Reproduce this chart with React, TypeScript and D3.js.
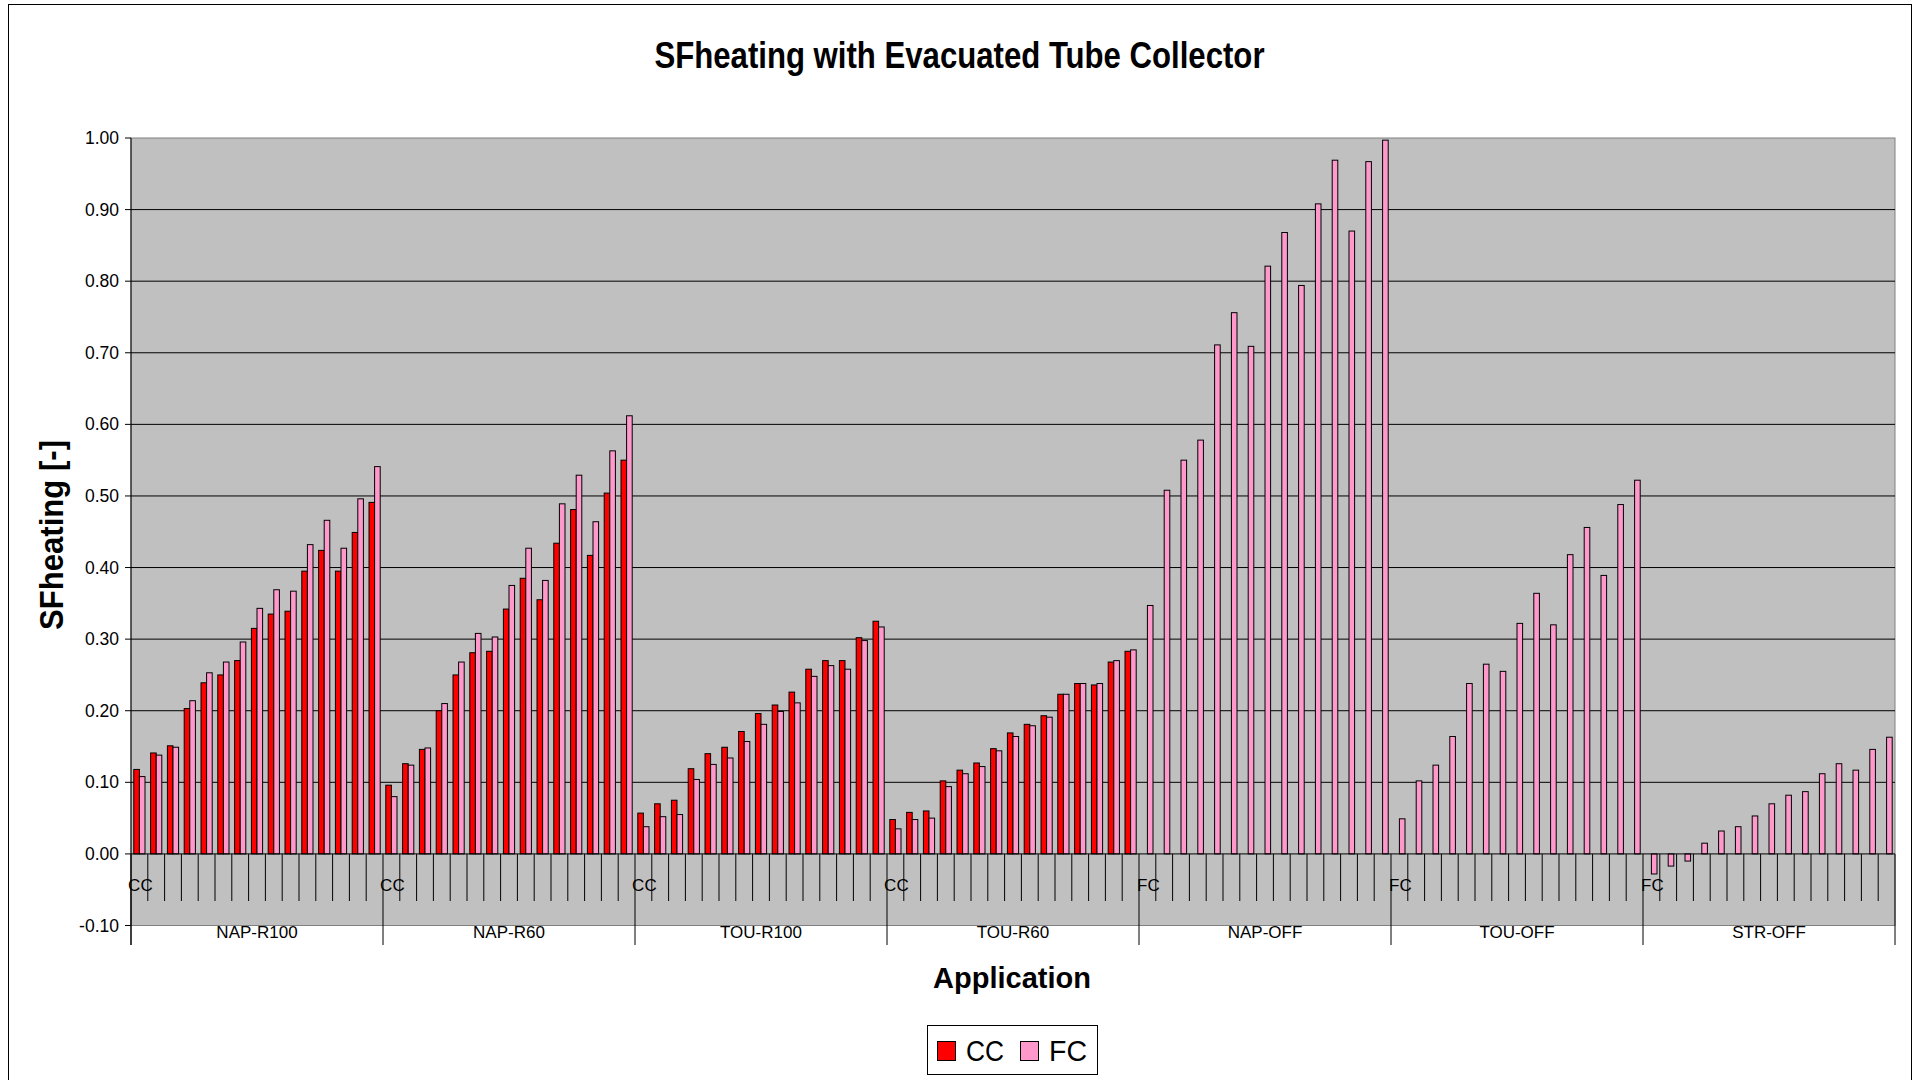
import React from "react";
import * as d3 from "d3";

const groups = ["NAP-R100", "NAP-R60", "TOU-R100", "TOU-R60", "NAP-OFF", "TOU-OFF", "STR-OFF"];
const groupLevel2 = ["CC", "CC", "CC", "CC", "FC", "FC", "FC"];
const series = ["CC", "FC"];
const seriesColors = ["#FF0000", "#FF99CC"];

const napR100CC = [0.118, 0.141, 0.151, 0.203, 0.239, 0.25, 0.27, 0.315, 0.335, 0.339, 0.395, 0.424, 0.395, 0.449, 0.491];
const napR100FC = [0.108, 0.138, 0.149, 0.214, 0.253, 0.268, 0.296, 0.343, 0.369, 0.367, 0.432, 0.466, 0.427, 0.496, 0.541];
const napR60CC = [0.096, 0.126, 0.146, 0.2, 0.25, 0.281, 0.283, 0.342, 0.385, 0.355, 0.434, 0.481, 0.417, 0.504, 0.55];
const napR60FC = [0.08, 0.124, 0.148, 0.21, 0.268, 0.308, 0.303, 0.375, 0.427, 0.382, 0.489, 0.529, 0.464, 0.563, 0.612];
const touR100CC = [0.057, 0.07, 0.075, 0.119, 0.14, 0.149, 0.171, 0.196, 0.208, 0.226, 0.258, 0.27, 0.27, 0.302, 0.325];
const touR100FC = [0.038, 0.052, 0.055, 0.104, 0.125, 0.134, 0.157, 0.181, 0.199, 0.211, 0.248, 0.263, 0.258, 0.298, 0.317];
const touR60CC = [0.048, 0.058, 0.06, 0.102, 0.117, 0.127, 0.147, 0.169, 0.181, 0.193, 0.223, 0.238, 0.236, 0.268, 0.283];
const touR60FC = [0.035, 0.048, 0.05, 0.094, 0.112, 0.122, 0.144, 0.164, 0.179, 0.191, 0.223, 0.238, 0.238, 0.27, 0.285];
const napOffFC = [0.347, 0.508, 0.55, 0.578, 0.711, 0.756, 0.709, 0.821, 0.868, 0.794, 0.908, 0.969, 0.87, 0.967, 0.997];
const touOffFC = [0.049, 0.102, 0.124, 0.164, 0.238, 0.265, 0.255, 0.322, 0.364, 0.32, 0.418, 0.456, 0.389, 0.488, 0.522];
const strOffFC = [-0.028, -0.017, -0.01, 0.015, 0.032, 0.038, 0.053, 0.07, 0.082, 0.087, 0.112, 0.126, 0.117, 0.146, 0.163];

const ccByGroup: (number[] | null)[] = [napR100CC, napR60CC, touR100CC, touR60CC, null, null, null];
const fcByGroup: (number[] | null)[] = [napR100FC, napR60FC, touR100FC, touR60FC, napOffFC, touOffFC, strOffFC];

const yTicks = [-0.1, 0, 0.1, 0.2, 0.3, 0.4, 0.5, 0.6, 0.7, 0.8, 0.9, 1.0];
const perGroup = 15;

const FONT = "'Liberation Sans', Arial, Helvetica, sans-serif";

export default function App() {
  const W = 1917, H = 1080;
  const left = 131, right = 1895, top = 138, bottom = 925.5;
  const n = groups.length * perGroup;
  const x = d3.scaleBand<number>().domain(d3.range(n)).range([left, right]).padding(0);
  const inner = d3.scaleBand<string>().domain(series).range([0, x.bandwidth()]).paddingInner(0).paddingOuter(0.5);
  const y = d3.scaleLinear().domain([-0.1, 1.0]).range([bottom, top]);
  const y0 = y(0);

  const bars: { key: string; x: number; w: number; y: number; h: number; fill: string }[] = [];
  groups.forEach((g, gi) => {
    [ccByGroup[gi], fcByGroup[gi]].forEach((vals, si) => {
      if (!vals) return;
      vals.forEach((v, k) => {
        const idx = gi * perGroup + k;
        const yv = y(v);
        bars.push({
          key: `${g}-${si}-${k}`,
          x: (x(idx) as number) + (inner(series[si]) as number),
          w: inner.bandwidth(),
          y: Math.min(yv, y0),
          h: Math.abs(y0 - yv),
          fill: seriesColors[si],
        });
      });
    });
  });

  const tickBottom = 901;
  const sepBottom = 945;

  return (
    <svg width={W} height={H} style={{ position: "absolute", left: 0, top: 0, background: "#fff" }} fontFamily={FONT}>
      <rect x={8.5} y={4.5} width={1903} height={1100} fill="#fff" stroke="#000" strokeWidth={1} />
      <text x={959.5} y={68} textAnchor="middle" fontSize={37} fontWeight="bold" textLength={610} lengthAdjust="spacingAndGlyphs">
        SFheating with Evacuated Tube Collector
      </text>
      {/* plot area */}
      <rect x={left} y={top} width={right - left} height={bottom - top} fill="#C0C0C0" stroke="#808080" strokeWidth={1} />
      {yTicks.filter((t) => t > 0 && t < 1).map((t) => (
        <line key={"g" + t} x1={left} x2={right} y1={y(t)} y2={y(t)} stroke="#000" strokeWidth={1} />
      ))}
      {/* y axis */}
      <line x1={left} x2={left} y1={top} y2={sepBottom} stroke="#000" strokeWidth={1} />
      {yTicks.map((t) => (
        <g key={"t" + t}>
          <line x1={left - 6} x2={left} y1={y(t)} y2={y(t)} stroke="#000" strokeWidth={1} />
          <text x={119} y={y(t) + 6} textAnchor="end" fontSize={17.5}>
            {t.toFixed(2)}
          </text>
        </g>
      ))}
      {/* bars */}
      {bars.map((b) => (
        <rect key={b.key} x={b.x} y={b.y} width={b.w} height={b.h} fill={b.fill} stroke="#000" strokeWidth={1} />
      ))}
      {/* x axis line at zero */}
      <line x1={left} x2={right} y1={y0} y2={y0} stroke="#000" strokeWidth={1} />
      {/* category ticks */}
      {d3.range(n + 1).map((i) => {
        const xx = i < n ? (x(i) as number) : right;
        const isSep = i % perGroup === 0;
        return <line key={"c" + i} x1={xx} x2={xx} y1={y0} y2={isSep ? sepBottom : tickBottom} stroke="#000" strokeWidth={1} />;
      })}
      {groups.map((g, gi) => {
        const first = x(gi * perGroup) as number;
        const gx0 = first;
        const gx1 = gi === groups.length - 1 ? right : (x((gi + 1) * perGroup) as number);
        return (
          <g key={"gl" + g}>
            <text x={first + x.bandwidth() / 2 + 1} y={891} textAnchor="middle" fontSize={17}>
              {groupLevel2[gi]}
            </text>
            <text x={(gx0 + gx1) / 2} y={938} textAnchor="middle" fontSize={17}>
              {g}
            </text>
          </g>
        );
      })}
      {/* axis titles */}
      <text transform="translate(63,535) rotate(-90)" textAnchor="middle" fontSize={33} fontWeight="bold" textLength={190} lengthAdjust="spacingAndGlyphs">
        SFheating [-]
      </text>
      <text x={1012} y={988} textAnchor="middle" fontSize={29} fontWeight="bold">
        Application
      </text>
      {/* legend */}
      <rect x={927.5} y={1025.5} width={170} height={49} fill="#fff" stroke="#000" strokeWidth={1} />
      {series.map((s, si) => {
        const sx = si === 0 ? 937.5 : 1020.5;
        return (
          <g key={"lg" + s}>
            <rect x={sx} y={1041.5} width={18} height={19} fill={seriesColors[si]} stroke="#000" strokeWidth={1} />
            <text x={sx + 28.5} y={1061} fontSize={29} textLength={38} lengthAdjust="spacingAndGlyphs">
              {s}
            </text>
          </g>
        );
      })}
    </svg>
  );
}
